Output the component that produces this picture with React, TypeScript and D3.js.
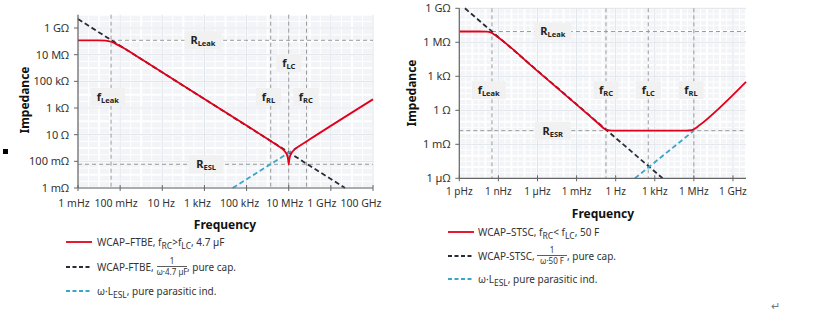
import React from 'react'
import * as d3 from 'd3'

// ---- left panel (WCAP-FTBE) ----
const ftbeFreqTicks = [1e-3, 1e-1, 1e1, 1e3, 1e5, 1e7, 1e9, 1e11]
const ftbeFreqLabels = ['1 mHz', '100 mHz', '10 Hz', '1 kHz', '100 kHz', '10 MHz', '1 GHz', '100 GHz']
const ftbeZTicks = [1e-3, 1e-1, 1e1, 1e3, 1e5, 1e7, 1e9]
const ftbeZLabels = ['1 mΩ', '100 mΩ', '10 Ω', '1 kΩ', '100 kΩ', '10 MΩ', '1 GΩ']

const ftbeRed = [
  [1e-3, 1.2e8], [1e-2, 1.2e8], [0.02, 1.15e8], [0.04, 9e7], [0.08, 5.2e7], [0.16, 2.9e7],
  [1, 4.7e6], [1e3, 4.7e3], [1e6, 4.7], [3.2e6, 1.4], [6.3e6, 0.6], [8.3e6, 0.3], [9.5e6, 0.12],
  [1e7, 0.06], [1.05e7, 0.12], [1.2e7, 0.3], [1.6e7, 0.6], [3.2e7, 1.4], [1e8, 4.5], [1e11, 4500],
]
const ftbeCap = [[1e-3, 4.7e9], [4.7e9, 1e-3]]
const ftbeInd = [[2.2e4, 1e-3], [2.5e7, 1.1]]
const ftbeVLines = [0.037, 1.4e6, 1e7, 7e7]
const ftbeRLeak = 1.2e8
const ftbeRESL = 0.06

// ---- right panel (WCAP-STSC) ----
const stscFreqTicks = [1e-12, 1e-9, 1e-6, 1e-3, 1, 1e3, 1e6, 1e9]
const stscFreqLabels = ['1 pHz', '1 nHz', '1 µHz', '1 mHz', '1 Hz', '1 kHz', '1 MHz', '1 GHz']
const stscZTicks = [1e-6, 1e-3, 1, 1e3, 1e6, 1e9]
const stscZLabels = ['1 µΩ', '1 mΩ', '1 Ω', '1 kΩ', '1 MΩ', '1 GΩ']

const stscRed = [
  [1e-12, 9e6], [3.2e-11, 9e6], [1.3e-10, 8.6e6], [2.5e-10, 7.4e6], [5e-10, 4.6e6], [1e-9, 2.6e6],
  [1e-6, 2.9e3], [1e-3, 3.2], [0.063, 0.05], [0.126, 0.025], [0.25, 0.0174], [0.5, 0.016],
  [2.5e5, 0.016], [6.3e5, 0.0174], [1.26e6, 0.025], [2.5e6, 0.045], [1e10, 330],
]
const stscCap = [[2.7e-12, 1e9], [4e3, 1e-6]]
const stscInd = [[30, 1e-6], [1e6, 0.016]]
const stscVLines = [3.2e-10, 0.18, 316, 1e6]
const stscRLeak = 9e6
const stscRESR = 0.016

const RED = '#e2001a'
const DARK = '#272c36'
const CYAN = '#3ba5c9'
const GRID = '#9a9a9a'
const TXT = '#333'
const FONT = '"Noto Sans", "Open Sans", sans-serif'

type Lbl = { f: number; z: number; main: string; sub: string; w: number }

function Tag({ x, y, l }: { x: number; y: number; l: Lbl }) {
  return (
    <g>
      <rect x={x - l.w / 2} y={y - 9} width={l.w} height={18} fill="#f1f1f1" />
      <text x={x} y={y + 4} textAnchor="middle" fontWeight="bold" fontSize={11} fill="#222">
        {l.main}
        <tspan fontSize={7.5} dy={2}>{l.sub}</tspan>
      </text>
    </g>
  )
}

function Panel(props: any) {
  const { xr, yr, xd, yd, xt, xl, yt, yl, red, cap, ind, vlines, hFull, hPart, hPartFrom, labels, xLabelY, xLabelDx, tickFont } = props
  const x = d3.scaleLog().domain(xd).range(xr)
  const y = d3.scaleLog().domain(yd).range(yr)
  const line = d3.line<number[]>().x(d => x(d[0])).y(d => y(d[1]))
  const smooth = d3.line<number[]>().x(d => x(d[0])).y(d => y(d[1])).curve(d3.curveMonotoneX)

  const decX = d3.range(Math.ceil(Math.log10(xd[0])), Math.floor(Math.log10(xd[1])) + 1).map(e => Math.pow(10, e))
  const decY = d3.range(Math.ceil(Math.log10(yd[0])), Math.floor(Math.log10(yd[1])) + 1).map(e => Math.pow(10, e))
  const halfX = decX.map(v => v * 3.16).filter(v => v < xd[1])
  const halfY = decY.map(v => v * 3.16).filter(v => v < yd[1])

  const [x0, x1] = xr
  const [y0, y1] = yr

  return (
    <g fontFamily={FONT}>
      <rect x={x0} y={y1} width={x1 - x0} height={y0 - y1} fill="#f2f4f7" />
      {halfX.map((v, i) => <line key={'hx' + i} x1={x(v)} x2={x(v)} y1={y1} y2={y0} stroke="#fff" strokeWidth={1} />)}
      {halfY.map((v, i) => <line key={'hy' + i} x1={x0} x2={x1} y1={y(v)} y2={y(v)} stroke="#fff" strokeWidth={1} />)}
      {decX.map((v, i) => <line key={'dx' + i} x1={x(v)} x2={x(v)} y1={y1} y2={y0} stroke="#fff" strokeWidth={2} />)}
      {decY.map((v, i) => <line key={'dy' + i} x1={x0} x2={x1} y1={y(v)} y2={y(v)} stroke="#fff" strokeWidth={2} />)}
      {xt.map((v: number, i: number) => <line key={'mx' + i} x1={x(v)} x2={x(v)} y1={y1} y2={y0} stroke="#dfe4ea" strokeWidth={1} />)}
      {yt.map((v: number, i: number) => <line key={'my' + i} x1={x0} x2={x1} y1={y(v)} y2={y(v)} stroke="#dfe4ea" strokeWidth={1} />)}

      {/* reference dashes */}
      {vlines.map((v: number, i: number) => (
        <line key={'v' + i} x1={x(v)} x2={x(v)} y1={y1} y2={y0} stroke={GRID} strokeWidth={1} strokeDasharray="4,3" />
      ))}
      <line x1={x(hPartFrom)} x2={x1} y1={y(hPart)} y2={y(hPart)} stroke={GRID} strokeWidth={1} strokeDasharray="4,3" />
      <line x1={x0} x2={x1} y1={y(hFull)} y2={y(hFull)} stroke={GRID} strokeWidth={1} strokeDasharray="4,3" />

      {labels.map((l: Lbl, i: number) => <Tag key={'t' + i} x={x(l.f)} y={y(l.z)} l={l} />)}

      <path d={line(cap) || ''} fill="none" stroke={DARK} strokeWidth={1.8} strokeDasharray="5,3" />
      <path d={line(ind) || ''} fill="none" stroke={CYAN} strokeWidth={1.8} strokeDasharray="5,3" />
      <path d={smooth(red) || ''} fill="none" stroke={RED} strokeWidth={1.8} />

      {/* axes */}
      <line x1={x0} x2={x0} y1={y1} y2={y0} stroke="#666" strokeWidth={1.2} />
      <line x1={x0} x2={x1} y1={y0} y2={y0} stroke="#666" strokeWidth={1.2} />
      {yt.map((v: number, i: number) => (
        <g key={'yt' + i}>
          <line x1={x0 - 4} x2={x0} y1={y(v)} y2={y(v)} stroke="#666" />
          <text x={x0 - 9} y={y(v) + 4} textAnchor="end" fontSize={11} fill={TXT}>{yl[i]}</text>
        </g>
      ))}
      {xt.map((v: number, i: number) => (
        <g key={'xt' + i}>
          <line x1={x(v)} x2={x(v)} y1={y0 - 3} y2={y0 + 3} stroke="#666" />
          <text x={x(v) + (xLabelDx ? xLabelDx[i] : 0)} y={xLabelY} textAnchor="middle" fontSize={tickFont} fill={TXT}>{xl[i]}</text>
        </g>
      ))}
    </g>
  )
}

function LegendRow({ x, y, color, dash }: { x: number; y: number; color: string; dash?: string }) {
  return <line x1={x} x2={x + 26} y1={y} y2={y} stroke={color} strokeWidth={1.8} strokeDasharray={dash} />
}

export default function App() {
  const ftbeLabels: Lbl[] = [
    { f: 850, z: ftbeRLeak, main: 'R', sub: 'Leak', w: 37 },
    { f: 0.026, z: 6.8e3, main: 'f', sub: 'Leak', w: 34 },
    { f: 1e7, z: 2.4e6, main: 'f', sub: 'LC', w: 25 },
    { f: 1.1e6, z: 6.8e3, main: 'f', sub: 'RL', w: 25 },
    { f: 6.5e7, z: 6.8e3, main: 'f', sub: 'RC', w: 25 },
    { f: 1200, z: ftbeRESL, main: 'R', sub: 'ESL', w: 34 },
  ]
  const stscLabels: Lbl[] = [
    { f: 1.5e-5, z: stscRLeak, main: 'R', sub: 'Leak', w: 37 },
    { f: 1.8e-10, z: 60, main: 'f', sub: 'Leak', w: 34 },
    { f: 0.18, z: 60, main: 'f', sub: 'RC', w: 25 },
    { f: 316, z: 60, main: 'f', sub: 'LC', w: 25 },
    { f: 6e5, z: 60, main: 'f', sub: 'RL', w: 25 },
    { f: 1.5e-5, z: stscRESR, main: 'R', sub: 'ESR', w: 36 },
  ]

  return (
    <svg width={821} height={314} style={{ position: 'absolute', left: 0, top: 0, background: '#fff' }}>
      <Panel xr={[78, 373]} yr={[188, 14.7]} xd={[1e-3, 1e11]} yd={[1e-3, 1e10]}
        xt={ftbeFreqTicks} xl={ftbeFreqLabels} yt={ftbeZTicks} yl={ftbeZLabels}
        red={ftbeRed} cap={ftbeCap} ind={ftbeInd} vlines={ftbeVLines}
        hFull={ftbeRESL} hPart={ftbeRLeak} hPartFrom={ftbeVLines[0]} labels={ftbeLabels}
        xLabelY={207} xLabelDx={[-4, -4, -1, -7, -7, -4, -9, -12]} tickFont={10.5} />
      <Panel xr={[459.3, 746]} yr={[178.3, 8.3]} xd={[1e-12, 1e10]} yd={[1e-6, 1e9]}
        xt={stscFreqTicks} xl={stscFreqLabels} yt={stscZTicks} yl={stscZLabels}
        red={stscRed} cap={stscCap} ind={stscInd} vlines={stscVLines}
        hFull={stscRESR} hPart={stscRLeak} hPartFrom={stscVLines[0]} labels={stscLabels}
        xLabelY={195} tickFont={10} />

      <g fontFamily={FONT} fill="#111" fontWeight="bold" fontSize={12}>
        <text x={225} y={229} textAnchor="middle">Frequency</text>
        <text x={603} y={218} textAnchor="middle">Frequency</text>
        <text transform="translate(29,100) rotate(-90)" textAnchor="middle">Impedance</text>
        <text transform="translate(416,93) rotate(-90)" textAnchor="middle">Impedance</text>
      </g>

      <rect x={3} y={149} width={5} height={5} fill="#000" />

      {/* left legend */}
      <g fontFamily={FONT} fontSize={10} fill={TXT}>
        <LegendRow x={66} y={242} color={RED} />
        <text x={97} y={246}>WCAP–FTBE, f<tspan fontSize={8.5} dy={3}>RC</tspan><tspan dy={-3}>&gt;f</tspan><tspan fontSize={8.5} dy={3}>LC</tspan><tspan dy={-3}>, 4.7 µF</tspan></text>
        <LegendRow x={66} y={267} color={DARK} dash="4,2.5" />
        <text x={97} y={271}>WCAP-FTBE,</text>
        <text x={172} y={264} fontSize={8} textAnchor="middle">1</text>
        <line x1={157} x2={187} y1={266.5} y2={266.5} stroke={TXT} strokeWidth={0.8} />
        <text x={172} y={275} fontSize={8} textAnchor="middle">ω·4.7 µF</text>
        <text x={187} y={271}>, pure cap.</text>
        <LegendRow x={66} y={291} color={CYAN} dash="4,2.5" />
        <text x={97} y={295}>ω·L<tspan fontSize={8.5} dy={3}>ESL</tspan><tspan dy={-3}>, pure parasitic ind.</tspan></text>
      </g>

      {/* right legend */}
      <g fontFamily={FONT} fontSize={10} fill={TXT}>
        <LegendRow x={448} y={232} color={RED} />
        <text x={478} y={236}>WCAP–STSC, f<tspan fontSize={8.5} dy={3}>RC</tspan><tspan dy={-3}>&lt; f</tspan><tspan fontSize={8.5} dy={3}>LC</tspan><tspan dy={-3}>, 50 F</tspan></text>
        <LegendRow x={448} y={256} color={DARK} dash="4,2.5" />
        <text x={478} y={260}>WCAP-STSC,</text>
        <text x={552} y={253} fontSize={8} textAnchor="middle">1</text>
        <line x1={537} x2={567} y1={255.5} y2={255.5} stroke={TXT} strokeWidth={0.8} />
        <text x={552} y={264} fontSize={8} textAnchor="middle">ω·50 F</text>
        <text x={567} y={260}>, pure cap.</text>
        <LegendRow x={448} y={279} color={CYAN} dash="4,2.5" />
        <text x={478} y={283}>ω·L<tspan fontSize={8.5} dy={3}>ESL</tspan><tspan dy={-3}>, pure parasitic ind.</tspan></text>
      </g>

      <text x={775} y={310} fontFamily={FONT} fontSize={11} fill="#777" textAnchor="middle">↵</text>
    </svg>
  )
}
